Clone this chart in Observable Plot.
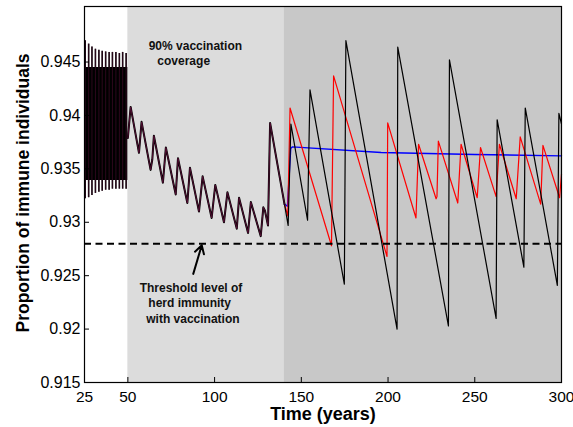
<!DOCTYPE html>
<html><head><meta charset="utf-8">
<script src="https://cdn.jsdelivr.net/npm/d3@7"></script>
<script src="https://cdn.jsdelivr.net/npm/@observablehq/plot@0.6"></script>
<style>body{margin:0;background:#fff} #chart svg{display:block}</style>
</head><body><div id="chart"></div>
<script>
// ---- axes ----
const xTicks = [25, 50, 100, 150, 200, 250, 300];
const yTicks = [0.915, 0.92, 0.925, 0.93, 0.935, 0.94, 0.945];
const yTickLabels = ["0.915", "0.92", "0.925", "0.93", "0.935", "0.94", "0.945"];
const xDomain = [25, 300];
const yDomain = [0.915, 0.9502];

// ---- phases ----
const vaccStart = 50;
const phaseTwoStart = 140;
const thresholdValue = 0.928;

// ---- pre-vaccination oscillation (25-50) ----
const spikeYears = [25.4, 27.4, 29.3, 31.3, 33.3, 35.2, 37.2, 39.2, 41.1, 43.1, 45.1, 47.0, 49.0];
const spikeHigh  = [0.9470, 0.94668, 0.94642, 0.9462, 0.9461, 0.9460, 0.94595, 0.9459, 0.9459, 0.9459, 0.9458, 0.9459, 0.9458];
const spikeLow   = [0.9322, 0.9323, 0.9325, 0.9327, 0.9328, 0.9329, 0.9330, 0.9330, 0.9331, 0.9331, 0.9331, 0.9331, 0.9331];
const bandYears = [25.9, 50];
const bandLow   = [0.9339, 0.9339];
const bandHigh  = [0.9445, 0.9445];

// ---- common trajectory (50-140) ----
const commonYears  = [50.0, 51.6, 56.4, 57.9, 63.1, 64.1, 65.0, 70.2, 71.9, 77.6, 78.9, 84.3, 85.8, 91.0, 93.1, 98.3, 100.4, 105.4, 107.4, 112.8, 114.1, 119.3, 120.9, 126.6, 128.1, 129.0, 130.8, 132.0, 140.3];
const commonValues = [0.9379, 0.9408, 0.9365, 0.9394, 0.9349, 0.9359, 0.9381, 0.9337, 0.9370, 0.9326, 0.9360, 0.9318, 0.9351, 0.9310, 0.9343, 0.9304, 0.9335, 0.9300, 0.9328, 0.9294, 0.9323, 0.9290, 0.9319, 0.9287, 0.9314, 0.9311, 0.9297, 0.9393, 0.9317];

// ---- scenarios after year 140 ----
const blueYears  = [140.3, 142.0, 143.9, 144.9, 196, 250, 300];
const blueValues = [0.9317, 0.9315, 0.9369, 0.93706, 0.93653, 0.93635, 0.93622];

const redYears  = [140.3, 142.2, 143.5, 167.4, 168.6, 199.4, 199.8, 216.1, 217.6, 227.7, 228.2, 229.0, 240.2, 241.2, 242.1, 251.4, 253.3, 262.3, 264.2, 273.9, 276.2, 288.0, 289.3, 298.9, 300];
const redValues = [0.9317, 0.9306, 0.9407, 0.9278, 0.9437, 0.9268, 0.9393, 0.9304, 0.9373, 0.9322, 0.9324, 0.9376, 0.9318, 0.9347, 0.9373, 0.9323, 0.9370, 0.9324, 0.9373, 0.9322, 0.9380, 0.9317, 0.9372, 0.9323, 0.9345];

const blackYears  = [140.3, 142.4, 144.0, 153.6, 155.0, 174.8, 175.7, 205.2, 205.6, 234.8, 235.4, 262.3, 262.9, 278.3, 279.1, 297.6, 298.5, 300];
const blackValues = [0.9317, 0.9297, 0.9392, 0.9302, 0.9424, 0.9242, 0.9470, 0.9200, 0.9464, 0.9203, 0.9452, 0.9210, 0.9396, 0.9258, 0.9407, 0.9241, 0.9402, 0.9392];

// ---- annotations ----
const coverageLines = ["90% vaccination", "coverage"];
const coverageX = [62.0, 67.0];
const coverageY = [0.94652, 0.94511];
const thresholdLines = ["Threshold level of", "herd immunity", "with vaccination"];
const thresholdX = [56.8, 61.8, 60.6];
const thresholdY = [0.9238, 0.92239, 0.92093];
const arrowFrom = [87.7, 0.92517];
const arrowTo = [92.6, 0.92785];
const xLabel = "Time (years)";
const yLabel = "Proportion of immune individuals";

// ---- build tables ----
const zip = (xs, ys) => xs.map((x, i) => ({x, y: ys[i]}));
const spikes = spikeYears.map((x, i) => ({x, lo: spikeLow[i], hi: spikeHigh[i]}));
const band = bandYears.map((x, i) => ({x, lo: bandLow[i], hi: bandHigh[i]}));
const common = zip(commonYears, commonValues);
const blue = zip(blueYears, blueValues);
const red = zip(redYears, redValues);
const black = zip(blackYears, blackValues);
const coverage = coverageLines.map((t, i) => ({t, x: coverageX[i], y: coverageY[i]}));
const thresh = thresholdLines.map((t, i) => ({t, x: thresholdX[i], y: thresholdY[i]}));

const font = "'Liberation Sans', Arial, Helvetica, sans-serif";
const maroon = "#5a1038";

const chart = Plot.plot({
  width: 573,
  height: 427,
  marginLeft: 84,
  marginRight: 12,
  marginTop: 6,
  marginBottom: 45,
  style: {fontFamily: font, fontSize: "16px", background: "white", color: "black", overflow: "visible"},
  x: {domain: xDomain},
  y: {domain: yDomain},
  marks: [
    Plot.rect([0], {x1: vaccStart, x2: phaseTwoStart, y1: yDomain[0], y2: yDomain[1], fill: "#dcdcdc"}),
    Plot.rect([0], {x1: phaseTwoStart, x2: xDomain[1], y1: yDomain[0], y2: yDomain[1], fill: "#c8c8c8"}),
    Plot.areaY(band, {x: "x", y1: "lo", y2: "hi", fill: "black"}),
    Plot.ruleX(spikes, {x: "x", y1: "lo", y2: "hi", stroke: "black", strokeWidth: 1.6}),
    Plot.ruleX(spikes, {x: "x", y1: "lo", y2: "hi", stroke: maroon, strokeWidth: 0.5}),
    Plot.line(blue, {x: "x", y: "y", stroke: "#0000ff", strokeWidth: 1.4}),
    Plot.line(red, {x: "x", y: "y", stroke: "#ff0000", strokeWidth: 1.2}),
    Plot.line(black, {x: "x", y: "y", stroke: "black", strokeWidth: 1.2}),
    Plot.line(common, {x: "x", y: "y", stroke: "black", strokeWidth: 2}),
    Plot.line(common, {x: "x", y: "y", stroke: maroon, strokeWidth: 0.9}),
    Plot.ruleY([thresholdValue], {x1: xDomain[0], x2: xDomain[1], stroke: "black", strokeWidth: 2, strokeDasharray: "7,4.5"}),
    Plot.text(coverage, {x: "x", y: "y", text: "t", textAnchor: "start", fontSize: 12, fontWeight: "bold", fill: "#111"}),
    Plot.text(thresh, {x: "x", y: "y", text: "t", textAnchor: "start", fontSize: 12, fontWeight: "bold", fill: "#111"}),
    Plot.arrow([0], {x1: arrowFrom[0], y1: arrowFrom[1], x2: arrowTo[0], y2: arrowTo[1], stroke: "black", strokeWidth: 2, headLength: 7}),
    Plot.frame({stroke: "black", strokeWidth: 1.2}),
    Plot.axisX({ticks: xTicks, tickFormat: d => String(d), tickSize: -5, tickPadding: 13, label: null, fontSize: 15.5}),
    Plot.axisY({ticks: yTicks, tickFormat: (d, i) => yTickLabels[i], tickSize: -5, tickPadding: 9, label: null, fontSize: 16}),
    Plot.text([xLabel], {frameAnchor: "bottom", lineAnchor: "middle", textAnchor: "middle", dy: 32, fontSize: 18, fontWeight: "bold"}),
    Plot.text([yLabel], {frameAnchor: "left", textAnchor: "middle", lineAnchor: "middle", rotate: -90, dx: -61, dy: -1.5, fontSize: 17.5, fontWeight: "bold"})
  ]
});
document.getElementById("chart").appendChild(chart);
</script></body></html>
